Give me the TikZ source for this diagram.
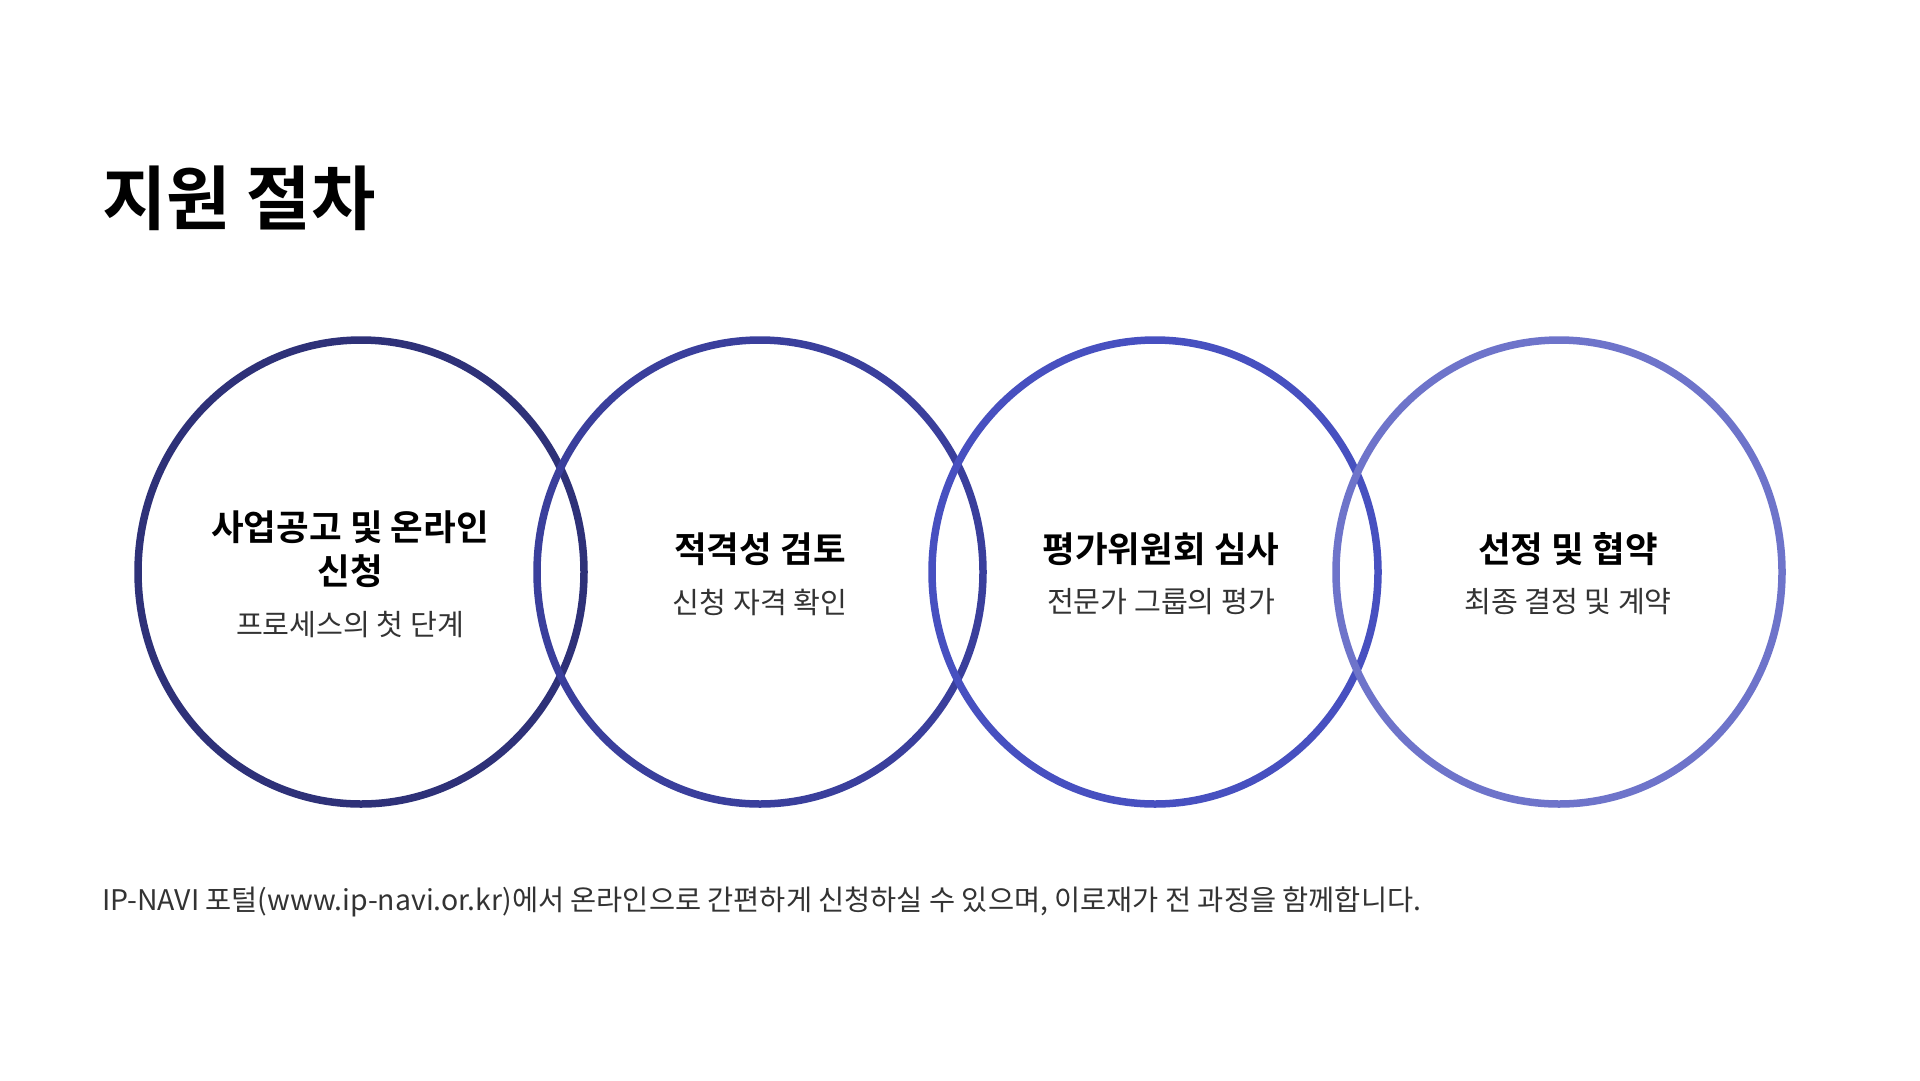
\documentclass[tikz,border=0pt]{standalone}
\usepackage{fontspec}
\setmainfont{Noto Sans CJK KR}[BoldFont={Noto Sans CJK KR Bold}]
\usetikzlibrary{shapes.geometric,positioning}
\definecolor{ringA}{HTML}{2E3178}
\definecolor{ringB}{HTML}{3A3F9C}
\definecolor{ringC}{HTML}{4750C0}
\definecolor{ringD}{HTML}{6E74CA}
\definecolor{subgray}{HTML}{333333}

\begin{document}
\begin{tikzpicture}[
x=1pt,y=-1pt,
ring/.style={ellipse,line width=7.5pt,minimum width=446pt,minimum height=464pt,inner sep=0pt},
head/.style={inner sep=0pt,align=center,font=\fontsize{35.5}{44}\selectfont\bfseries,text=black},
sub/.style={inner sep=0pt,font=\fontsize{29.2}{32}\selectfont,text=subgray},
note/.style={inner sep=0pt,anchor=west,font=\fontsize{28.4}{32}\selectfont,text=subgray}
]
\useasboundingbox[fill=white] (0,0) rectangle (1920,1080);
\node[inner sep=0pt,anchor=west,font=\fontsize{70}{74}\selectfont\bfseries] (title) at (102,198) {지원 절차};

\node[ring,draw=ringA] (ring1) at (361,572) {};
\node[ring,draw=ringB] (ring2) at (760,572) {};
\node[ring,draw=ringC] (ring3) at (1155,572) {};
\node[ring,draw=ringD] (ring4) at (1559,572) {};

\node[head] (head1) at (350,549) {사업공고 및 온라인\\신청};
\node[sub] (sub1) at (350,625) {프로세스의 첫 단계};
\node[head] (head2) at (760,549) {적격성 검토};
\node[sub] (sub2) at (760,602) {신청 자격 확인};
\node[head] (head3) at (1161,549) {평가위원회 심사};
\node[sub] (sub3) at (1161,602) {전문가 그룹의 평가};
\node[head] (head4) at (1568,549) {선정 및 협약};
\node[sub] (sub4) at (1568,602) {최종 결정 및 계약};

\node[note] (footer) at (102,902) {IP-NAVI 포털(www.ip-navi.or.kr)에서 온라인으로 간편하게 신청하실 수 있으며, 이로재가 전 과정을 함께합니다.};
\end{tikzpicture}
\end{document}
